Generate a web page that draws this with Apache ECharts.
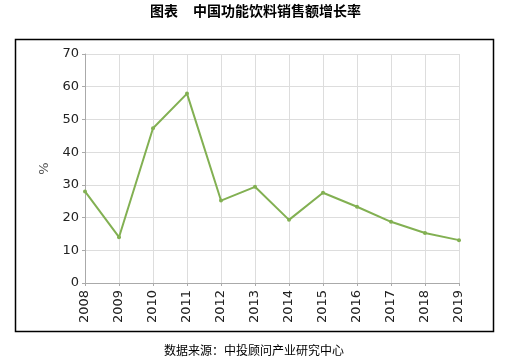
<!DOCTYPE html>
<html>
<head>
<meta charset="utf-8">
<script src="https://cdn.jsdelivr.net/npm/echarts@6/dist/echarts.min.js"></script>
<style>
html,body{margin:0;padding:0;background:#fff;}
#c{width:508px;height:363px;}
</style>
</head>
<body>
<div id="c"></div>
<script>
const titleLabel = '图表';
const titleText = '中国功能饮料销售额增长率';
const sourceText = '数据来源：中投顾问产业研究中心';
const years = ['2008','2009','2010','2011','2012','2013','2014','2015','2016','2017','2018','2019'];
const growth = [28.0, 14.0, 47.3, 57.9, 25.2, 29.4, 19.3, 27.6, 23.3, 18.7, 15.3, 13.1];
const yTicks = [0, 10, 20, 30, 40, 50, 60, 70];

const chart = echarts.init(document.getElementById('c'));
chart.setOption({
  animation: false,
  backgroundColor: '#fff',
  graphic: [
    { type: 'rect', shape: { x: 15.5, y: 39.5, width: 478, height: 292 }, style: { fill: 'none', stroke: '#000', lineWidth: 1.5 }, z: 0 },
    { type: 'text', left: 150, top: 4, style: { text: titleLabel, font: 'bold 14px "Noto Sans CJK SC"', fill: '#000' } },
    { type: 'text', left: 193, top: 4, style: { text: titleText, font: 'bold 14px "Noto Sans CJK SC"', fill: '#000' } },
    { type: 'text', left: 'center', top: 344, style: { text: sourceText, font: '12px "Noto Sans CJK SC"', fill: '#000' } }
  ],
  grid: { left: 85, right: 49, top: 54, bottom: 80 },
  xAxis: {
    type: 'category',
    data: years,
    boundaryGap: false,
    axisLine: { lineStyle: { color: '#aaa' } },
    axisTick: { show: true, length: 3, lineStyle: { color: '#aaa' } },
    axisLabel: { rotate: 90, margin: 7, color: '#222', fontFamily: 'DejaVu Sans', fontSize: 13 },
    splitLine: { show: true, lineStyle: { color: '#ddd' } }
  },
  yAxis: {
    type: 'value',
    min: yTicks[0],
    max: yTicks[yTicks.length - 1],
    interval: 10,
    name: '%',
    nameLocation: 'middle',
    nameGap: 32,
    nameRotate: 90,
    nameTextStyle: { color: '#555', fontFamily: 'DejaVu Sans', fontSize: 13 },
    axisLine: { show: true, lineStyle: { color: '#aaa' } },
    axisTick: { show: true, length: 3, lineStyle: { color: '#aaa' } },
    axisLabel: { margin: 6, color: '#222', fontFamily: 'DejaVu Sans', fontSize: 13 },
    splitLine: { show: true, lineStyle: { color: '#ddd' } }
  },
  series: [{
    type: 'line',
    data: growth,
    symbol: 'circle',
    symbolSize: 4,
    lineStyle: { color: '#82b052', width: 2 },
    itemStyle: { color: '#82b052' }
  }]
});
</script>
</body>
</html>
